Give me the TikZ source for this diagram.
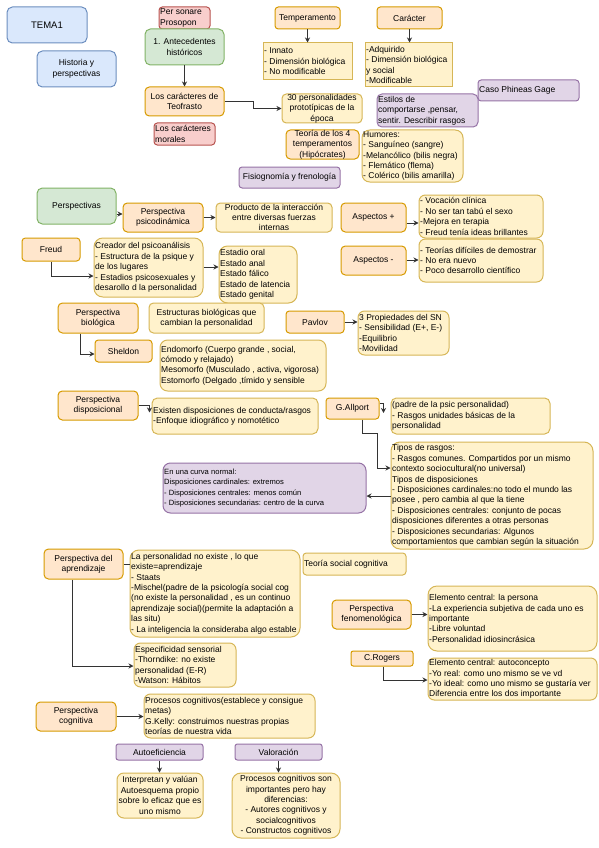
\documentclass[tikz,border=0pt]{standalone}
\usepackage{fontspec}
\setmainfont{Liberation Sans}
\usetikzlibrary{arrows.meta,calc}
\definecolor{bluef}{HTML}{DAE8FC}\definecolor{blued}{HTML}{6C8EBF}
\definecolor{greenf}{HTML}{D5E8D4}\definecolor{greend}{HTML}{82B366}
\definecolor{orangef}{HTML}{FFE6CC}\definecolor{oranged}{HTML}{D79B00}
\definecolor{yellowf}{HTML}{FFF2CC}\definecolor{yellowd}{HTML}{D6B656}
\definecolor{redf}{HTML}{F8CECC}\definecolor{redd}{HTML}{B85450}
\definecolor{purplef}{HTML}{E1D5E7}\definecolor{purpled}{HTML}{9673A6}
\definecolor{linec}{HTML}{333333}
\tikzset{
  basebox/.style={draw, line width=1pt, inner sep=0pt},
  bluebox/.style={basebox, fill=bluef, draw=blued},
  greenbox/.style={basebox, fill=greenf, draw=greend},
  orangebox/.style={basebox, fill=orangef, draw=oranged},
  ybox/.style={basebox, fill=yellowf, draw=yellowd},
  redbox/.style={basebox, fill=redf, draw=redd},
  purplebox/.style={basebox, fill=purplef, draw=purpled},
  txt/.style={inner sep=0pt, text=black, font=\fontsize{8.5}{10.4}\selectfont},
  smalltxt/.style={font=\fontsize{7.6}{10.2}\selectfont},
  bigtxt/.style={font=\fontsize{9.5}{11}\selectfont},
  arr/.style={draw=linec, line width=0.9pt, -{Stealth[length=5pt,width=5pt]}},
  ln/.style={draw=linec, line width=0.9pt}
}
\newcommand\BoxN[6]{%
  \pgfmathsetmacro\myW{#5-#3}%
  \pgfmathsetmacro\myH{#6-#4}%
  \pgfmathsetmacro\myX{(#3+#5)/2}%
  \pgfmathsetmacro\myY{(#4+#6)/2}%
  \pgfmathsetmacro\myR{min(0.15*min(\myW,\myH),9)}%
  \node[rounded corners=\myR pt, #2, minimum width=\myW pt, minimum height=\myH pt] (#1) at (\myX,\myY) {};}
\newcommand\Bl[8][]{\BoxN{#2}{#3}{#4}{#5}{#6}{#7}\node[txt, align=left, anchor=west, #1] (#2-t) at ([xshift=1.5pt]#2.west) {#8};}
\newcommand\Bc[8][]{\BoxN{#2}{#3}{#4}{#5}{#6}{#7}\node[txt, align=center, #1] (#2-t) at (#2.center) {#8};}
\begin{document}
\begin{tikzpicture}[x=1pt,y=-1pt]
\fill[white] (0,0) rectangle (599,848);
\useasboundingbox (0,0) rectangle (599,848);
% blue
\Bc[bigtxt]{tema}{bluebox}{7}{7}{87}{43}{TEMA1}
\Bc{hist}{bluebox}{37}{51}{116}{87}{Historia y\\perspectivas}
% red
\Bl{per}{redbox}{159}{7}{210}{29}{Per sonare\\Prosopon}
\Bl{mor}{redbox}{154}{123}{215}{145}{Los carácteres\\morales}
% green
\Bc{ant}{greenbox}{145}{29}{224}{65}{1. Antecedentes\\históricos}
\Bc{persp}{greenbox}{37}{188}{116}{224}{Perspectivas}
% orange
\Bc{teo}{orangebox}{145}{87}{224}{116}{Los carácteres de\\Teofrasto}
\Bc{temp}{orangebox}{275}{7}{340}{29}{Temperamento}
\Bc{car}{orangebox}{377}{7}{442}{29}{Carácter}
\Bc{teor4}{orangebox}{286}{130}{359}{159}{Teoría de los 4\\temperamentos\\(Hipócrates)}
\Bc{psy}{orangebox}{123}{203}{203}{232}{Perspectiva\\psicodinámica}
\Bc{asp1}{orangebox}{341}{203}{406}{232}{Aspectos +}
\Bc{asp2}{orangebox}{341}{246}{406}{275}{Aspectos -}
\Bc{freud}{orangebox}{22}{238}{80}{261}{Freud}
\Bc{bio}{orangebox}{58}{303}{138}{333}{Perspectiva\\biológica}
\Bc{shel}{orangebox}{95}{340}{152}{362}{Sheldon}
\Bc{pav}{orangebox}{286}{311}{344}{333}{Pavlov}
\Bc{disp}{orangebox}{58}{391}{138}{420}{Perspectiva\\disposicional}
\Bc{allp}{orangebox}{326}{398}{379}{419}{G.Allport}
\Bc{apr}{orangebox}{44}{549}{123}{579}{Perspectiva del\\aprendizaje}
\Bc{fen}{orangebox}{332}{600}{411}{629}{Perspectiva\\fenomenológica}
\Bc{rog}{orangebox}{351}{651}{413}{666}{C.Rogers}
\Bc{cog}{orangebox}{36}{702}{116}{731}{Perspectiva\\cognitiva}
% purple
\Bc{fis}{purplebox}{239}{167}{340}{188}{Fisiognomía y frenología}
\Bl{gage}{purplebox}{478}{80}{579}{101}{Caso Phineas Gage}
\Bl{est}{purplebox}{377}{94}{478}{127}{Estilos de\\comportarse ,pensar,\\sentir. Describir rasgos}
\Bl[smalltxt]{curva}{purplebox}{163}{463}{366}{513}{En una curva normal:\\Disposiciones cardinales: extremos\\- Disposiciones centrales: menos común\\- Disposiciones secundarias: centro de la curva}
\Bc{autoef}{purplebox}{116}{744}{203}{760}{Autoeficiencia}
\Bc{val}{purplebox}{235}{744}{322}{760}{Valoración}
% yellow
\Bl{inn}{ybox,sharp corners}{263}{43}{352}{80}{- Innato\\- Dimensión biológica\\- No modificable}
\Bl{adq}{ybox,sharp corners}{365}{43}{452}{87}{-Adquirido\\- Dimensión biológica\\y social\\-Modificable}
\Bc{p30}{ybox}{282}{94}{362}{123}{30 personalidades\\prototípicas de la\\época}
\Bl{hum}{ybox}{362}{130}{463}{182}{Humores:\\- Sanguíneo (sangre)\\-Melancólico (bilis negra)\\- Flemático (flema)\\- Colérico (bilis amarilla)}
\Bc{prod}{ybox}{216}{203}{332}{232}{Producto de la interacción\\entre diversas fuerzas\\internas}
\Bl{voc}{ybox}{419}{195}{543}{238}{- Vocación clínica\\- No ser tan tabú el sexo\\-Mejora en terapia\\- Freud tenía ideas brillantes}
\Bl{teorias}{ybox}{419}{239}{543}{282}{- Teorías difíciles de demostrar\\- No era nuevo\\- Poco desarrollo científico}
\Bl{crea}{ybox}{94}{238}{203}{297}{Creador del psicoanálisis\\- Estructura de la psique y\\de  los lugares\\- Estadios psicosexuales y\\desarollo d la personalidad}
\Bl{estad}{ybox}{219}{246}{297}{303}{Estadio oral\\Estado anal\\Estado fálico\\Estado de latencia\\Estado genital}
\Bc{estr}{ybox}{149}{303}{264}{333}{Estructuras biológicas que\\cambian la personalidad}
\Bl{endo}{ybox}{160}{340}{326}{391}{Endomorfo (Cuerpo grande , social,\\cómodo y relajado)\\Mesomorfo (Musculado , activa, vigorosa)\\Estomorfo (Delgado ,tímido y sensible}
\Bl{prop}{ybox}{358}{311}{449}{355}{3 Propiedades del SN\\- Sensibilidad (E+, E-)\\-Equilibrio\\-Movilidad}
\Bl{exist}{ybox}{152}{398}{318}{434}{Existen disposiciones de conducta/rasgos\\-Enfoque idiográfico y nomotético}
\Bl{padre}{ybox}{391}{398}{550}{434}{(padre de la psic personalidad)\\- Rasgos unidades básicas de la\\personalidad}
\Bl{tipos}{ybox}{391}{442}{593}{549}{Tipos de rasgos:\\- Rasgos comunes. Compartidos por un mismo\\contexto sociocultural(no universal)\\Tipos de disposiciones\\- Disposiciones cardinales:no todo el mundo las\\posee , pero cambia al que la tiene\\- Disposiciones centrales: conjunto de pocas\\disposiciones diferentes a otras personas\\- Disposiciones secundarias: Algunos\\comportamientos que cambian según la situación}
\Bl{lap}{ybox}{130}{550}{300}{637}{La personalidad no existe , lo que\\existe=aprendizaje\\- Staats\\-Mischel(padre de la psicología social cog\\(no existe la personalidad , es un continuo\\aprendizaje social)(permite la adaptación a\\las situ)\\- La inteligencia la consideraba algo estable}
\Bl{tsc}{ybox}{303}{553}{406}{575}{Teoría social cognitiva}
\Bl{espec}{ybox}{134}{643}{236}{687}{Especificidad sensorial\\-Thorndike: no existe\\personalidad (E-R)\\-Watson: Hábitos}
\Bl{persona}{ybox}{428}{586}{597}{651}{Elemento central: la persona\\-La experiencia subjetiva de cada uno es\\importante\\-Libre voluntad\\-Personalidad idiosincrásica}
\Bl{auto}{ybox}{428}{658}{597}{700}{Elemento central: autoconcepto\\-Yo real: como uno mismo se ve vd\\-Yo ideal: como uno mismo se gustaría ver\\Diferencia entre los dos importante}
\Bl{proc}{ybox}{144}{694}{315}{738}{Procesos cognitivos(establece y consigue\\metas)\\G.Kelly: construimos nuestras propias\\teorías de nuestra vida}
\Bc{interp}{ybox}{117}{773}{203}{818}{Interpretan y valúan\\Autoesquema propio\\sobre lo eficaz que es\\uno mismo}
\Bc{procs}{ybox}{232}{773}{340}{838}{Procesos cognitivos son\\importantes pero hay\\diferencias:\\- Autores cognitivos y\\socialcognitivos\\- Constructos cognitivos}
% connectors
\draw[arr] (ant.south) -- (teo.north);
\draw[arr] (teo.east) -- ++(29,0) |- (p30.west);
\draw[arr] (temp.south) -- (temp.south |- inn.north);
\draw[arr] (car.south) -- (car.south |- adq.north);
\draw[arr] (persp.east |- 0,214) -- (psy.west |- 0,214);
\draw[arr] (psy.east) -- (prod.west);
\draw[arr] (asp1.east |- 0,223) -- (voc.west |- 0,223);
\draw[arr] (asp2.east |- 0,260) -- (teorias.west |- 0,260);
\draw[arr] (freud.south) |- (crea.west |- 0,276);
\draw[arr] (crea.east |- 0,267) -- (estad.west |- 0,267);
\draw[arr] (bio.south -| 80,0) |- (shel.west |- 0,354);
\draw[arr] (pav.east) -- (prop.west |- pav.east);
\draw[arr] (disp.east |- 0,405) -| ([shift={(-2,15)}]exist.north west);
\draw[arr] (allp.east |- 0,403) -| ([shift={(-7,-3)}]padre.west);
\draw[arr] (allp.south -| 362,0) -- (362,433) -| (377,468) -- (tipos.west |- 0,468);
\draw[arr] (tipos.west |- 0,496) -- (curva.east |- 0,496);
\draw[ln] (apr.east |- 0,564) -- (lap.west |- 0,564);
\draw[arr] (apr.south -| 72,0) |- (espec.west |- 0,666);
\draw[arr] (fen.east) -- (persona.west |- fen.east);
\draw[arr] (rog.south -| 383,0) |- (auto.west |- 0,680);
\draw[arr] (cog.east) -- (proc.west |- cog.east);
\draw[arr] (autoef.south) -- (autoef.south |- interp.north);
\draw[arr] (val.south) -- (val.south |- procs.north);
\end{tikzpicture}
\end{document}
